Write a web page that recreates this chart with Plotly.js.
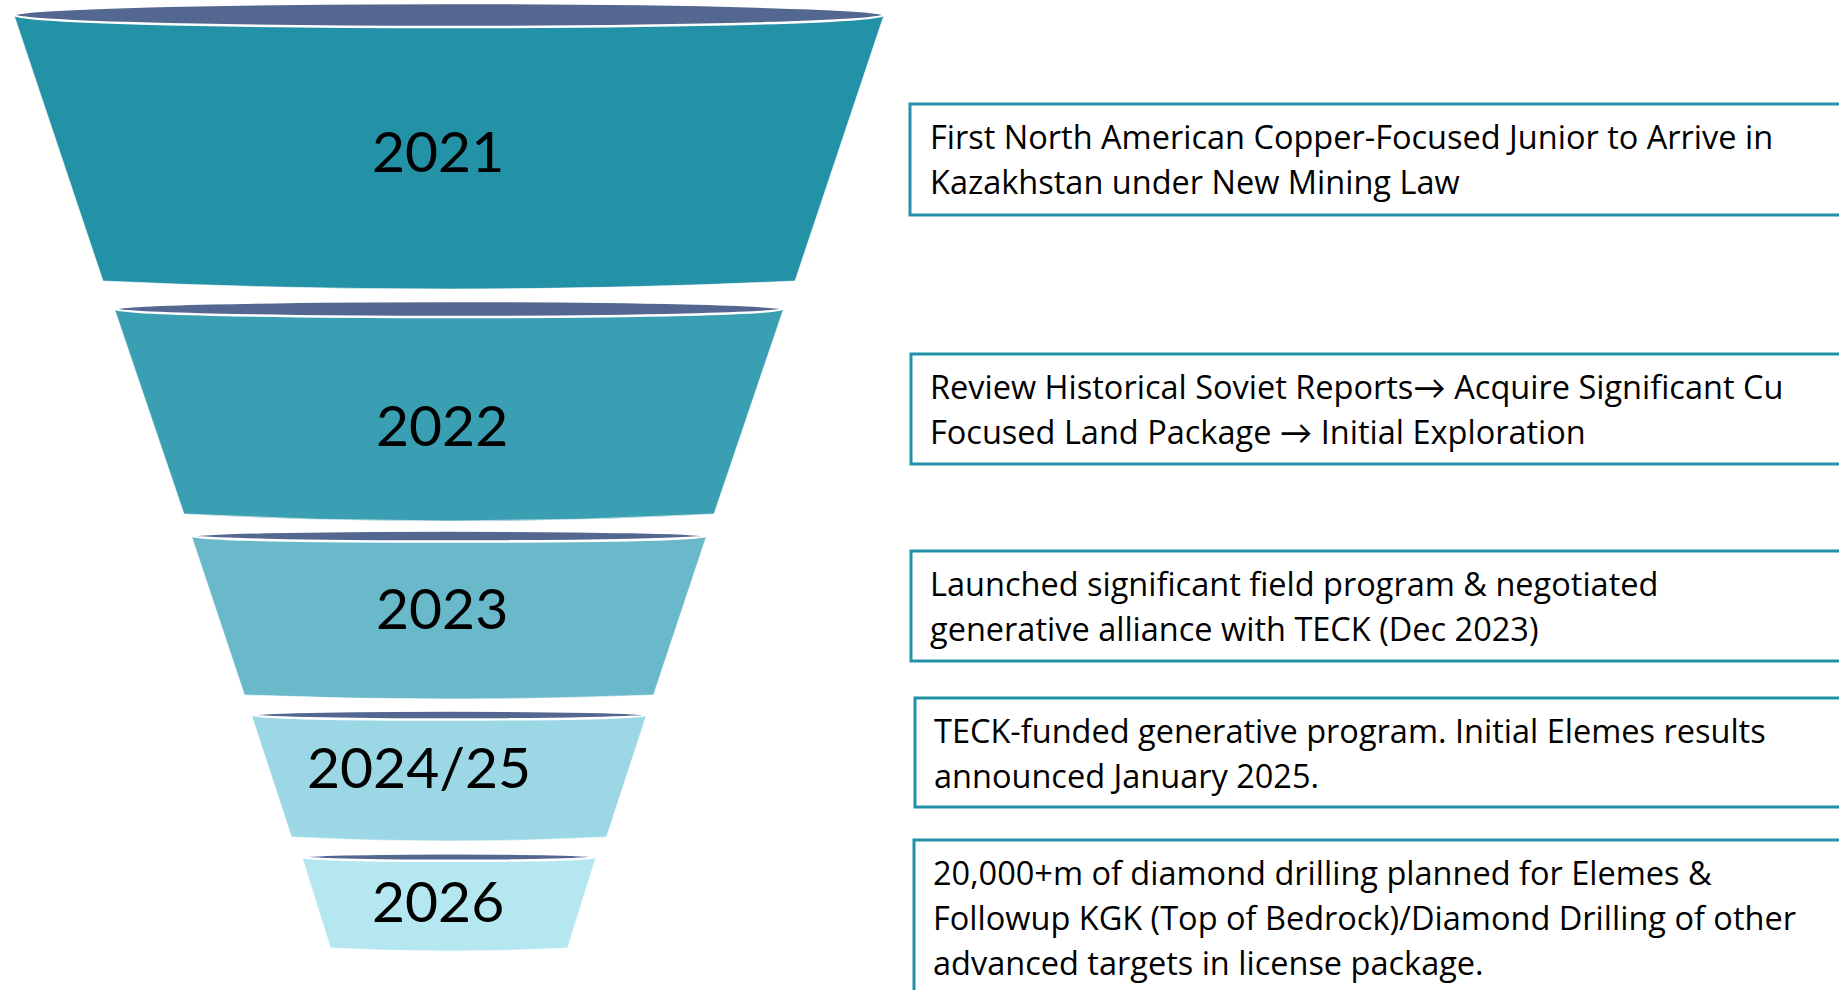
<!DOCTYPE html>
<html>
<head>
<meta charset="utf-8">
<script src="https://cdn.plot.ly/plotly-3.0.1.min.js"></script>
<style>
  html, body { margin: 0; padding: 0; background: #ffffff; }
  #chart { width: 1839px; height: 990px; }
</style>
</head>
<body>
<div id="chart"></div>
<script>
// ---- Funnel stages (top to bottom) ----
const stageLabels      = ['2021', '2022', '2023', '2024/25', '2026'];
const stageTopWidth    = [870, 669, 515, 395, 294];
const stageBottomWidth = [692, 530, 409, 315, 237];
const stageTopY        = [15, 309, 536, 715, 857];
const stageBottomY     = [281, 514, 695, 837, 948];
const stageLabelX      = [438, 442, 442, 419, 438];
const stageLabelY      = [150, 424, 607, 766, 900];
const stageColors      = ['#2391A6', '#3B9FB3', '#69B9CB', '#9BD7E4', '#B5E7F1'];

// ---- Description boxes ----
const descLines = [
  ['First North American Copper-Focused Junior to Arrive in', 'Kazakhstan under New Mining Law'],
  ['Review Historical Soviet Reports\u2192 Acquire Significant Cu', 'Focused Land Package \u2192 Initial Exploration'],
  ['Launched significant field program & negotiated', 'generative alliance with TECK (Dec 2023)'],
  ['TECK-funded generative program. Initial Elemes results', 'announced January 2025.'],
  ['20,000+m of diamond drilling planned for Elemes &', 'Followup KGK (Top of Bedrock)/Diamond Drilling of other', 'advanced targets in license package.']
];
const boxTop    = [104, 354, 551, 698, 840];
const boxBottom = [215, 464, 661, 807, 1000];
const boxLeft   = [910, 911, 911, 915, 914];
const textLeft  = [928, 928, 928, 932, 931];

// ---- Styling ----
const funnelCenter = 449;
const rimRy   = [12, 8, 5.5, 4.5, 3.8];
const sagY    = [8, 7, 4, 4, 3];
const rimColor = '#536790';
const boxColor = '#2293A7';
const lineStep = 45;
const firstBaseline = 44;
const yearFont = 'Lato, "Open Sans", sans-serif';
const textFont = '"Open Sans", Lato, sans-serif';

const shapes = [];
const annotations = [];

stageLabels.forEach((lab, i) => {
  const cx = funnelCenter;
  const tw = stageTopWidth[i] / 2, bw = stageBottomWidth[i] / 2;
  const ty = stageTopY[i], by = stageBottomY[i];
  shapes.push({
    type: 'path', xref: 'x', yref: 'y', layer: 'above',
    path: `M ${cx - tw},${ty} L ${cx - bw},${by} Q ${cx},${by + 2 * sagY[i]} ${cx + bw},${by} L ${cx + tw},${ty} Z`,
    fillcolor: stageColors[i],
    line: { color: 'rgba(255,255,255,0.6)', width: 1 }
  });
  shapes.push({
    type: 'circle', xref: 'x', yref: 'y', layer: 'above',
    x0: cx - tw, x1: cx + tw, y0: ty - rimRy[i], y1: ty + rimRy[i],
    fillcolor: rimColor,
    line: { color: '#ffffff', width: 2.5 }
  });
  annotations.push({
    xref: 'x', yref: 'y', x: stageLabelX[i], y: stageLabelY[i],
    xanchor: 'center', yanchor: 'middle', showarrow: false,
    text: lab, font: { family: yearFont, size: 57, color: '#000000' }
  });
});

descLines.forEach((lines, i) => {
  shapes.push({
    type: 'rect', xref: 'x', yref: 'y', layer: 'above',
    x0: boxLeft[i], x1: 1860, y0: boxTop[i], y1: boxBottom[i],
    fillcolor: 'rgba(0,0,0,0)',
    line: { color: boxColor, width: 3 }
  });
  lines.forEach((t, j) => {
    annotations.push({
      xref: 'x', yref: 'y',
      x: textLeft[i], y: boxTop[i] + firstBaseline + lineStep * j - 12,
      xanchor: 'left', yanchor: 'middle', showarrow: false, align: 'left',
      text: t, font: { family: textFont, size: 32.5, color: '#000000' }
    });
  });
});

const layout = {
  width: 1839, height: 990,
  margin: { l: 0, r: 0, t: 0, b: 0 },
  paper_bgcolor: '#ffffff', plot_bgcolor: '#ffffff',
  showlegend: false,
  xaxis: { range: [0, 1839], visible: false, fixedrange: true },
  yaxis: { range: [990, 0], visible: false, fixedrange: true },
  shapes: shapes,
  annotations: annotations
};

Plotly.newPlot('chart', [{ x: [], y: [], type: 'scatter', mode: 'markers', hoverinfo: 'skip' }], layout, { staticPlot: true, displayModeBar: false });
</script>
</body>
</html>
